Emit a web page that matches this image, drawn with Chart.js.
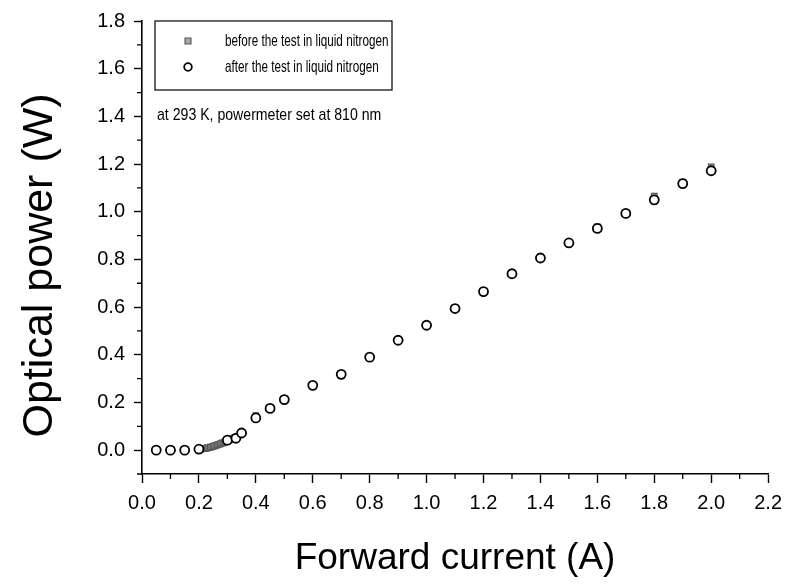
<!DOCTYPE html>
<html>
<head>
<meta charset="utf-8">
<script src="https://cdn.jsdelivr.net/npm/chart.js@4/dist/chart.umd.min.js"></script>
<style>
  html, body { margin: 0; padding: 0; background: #fff; }
  #wrap { width: 790px; height: 587px; }
</style>
</head>
<body>
<div id="wrap"><canvas id="grafico"></canvas></div>
<script>
// forward current (A), before the test (dense near threshold)
const correnteAntes = [0.05, 0.10, 0.15,
  0.200, 0.205, 0.210, 0.215, 0.220, 0.225, 0.230, 0.235, 0.240, 0.245, 0.250, 0.255, 0.260, 0.265,
  0.270, 0.275, 0.280, 0.285, 0.290, 0.295, 0.300, 0.305, 0.310, 0.315, 0.320, 0.325, 0.330, 0.35,
  0.40, 0.45, 0.50, 0.60, 0.70, 0.80, 0.90, 1.00, 1.10, 1.20, 1.30, 1.40, 1.50, 1.60, 1.70, 1.80, 1.90, 2.00];
// optical power (W), before the test
const potenciaAntes = [0.000, 0.000, 0.000,
  0.003, 0.004, 0.005, 0.006, 0.007, 0.008, 0.010, 0.011, 0.013, 0.014, 0.016, 0.018, 0.020, 0.022,
  0.024, 0.026, 0.029, 0.031, 0.034, 0.036, 0.039, 0.041, 0.044, 0.046, 0.049, 0.051, 0.054, 0.070,
  0.145, 0.178, 0.215, 0.274, 0.320, 0.392, 0.463, 0.527, 0.597, 0.668, 0.742, 0.810, 0.871, 0.937, 0.995, 1.065, 1.124, 1.188];

const correnteDepois = [0.05, 0.10, 0.15, 0.20, 0.30, 0.33, 0.35,
  0.40, 0.45, 0.50, 0.60, 0.70, 0.80, 0.90, 1.00, 1.10, 1.20, 1.30, 1.40, 1.50, 1.60, 1.70, 1.80, 1.90, 2.00];
// optical power (W), after the test
const potenciaDepois = [0.000, 0.000, 0.000, 0.004, 0.042, 0.050, 0.072,
  0.135, 0.175, 0.212, 0.272, 0.318, 0.390, 0.461, 0.524, 0.594, 0.665, 0.740, 0.806, 0.869, 0.930, 0.993, 1.050, 1.118, 1.172];

const ticksX = [0.0, 0.2, 0.4, 0.6, 0.8, 1.0, 1.2, 1.4, 1.6, 1.8, 2.0, 2.2];
const ticksY = [0.0, 0.2, 0.4, 0.6, 0.8, 1.0, 1.2, 1.4, 1.6, 1.8];

const legendas = ["before the test in liquid nitrogen", "after the test in liquid nitrogen"];
const anotacao = "at 293 K, powermeter set at 810 nm";

const fonte = "'Liberation Sans', Arial, sans-serif";

const pontos = (xs, ys) => xs.map((x, i) => ({ x, y: ys[i] }));

// texto um pouco comprimido na horizontal, como no original
function textoEstreito(ctx, txt, x, y, tam, escala) {
  ctx.save();
  ctx.translate(x, y);
  ctx.scale(escala, 1);
  ctx.font = `${tam}px ${fonte}`;
  ctx.fillStyle = '#000';
  ctx.textBaseline = 'middle';
  ctx.textAlign = 'left';
  ctx.fillText(txt, 0, 0);
  ctx.restore();
}

// minor ticks + legend box + note
const extras = {
  id: 'extras',
  afterDraw(chart) {
    const ctx = chart.ctx;
    const sx = chart.scales.x, sy = chart.scales.y;
    const area = chart.chartArea;
    ctx.save();
    ctx.strokeStyle = '#000';
    ctx.lineWidth = 1.3;
    ctx.beginPath();
    for (let i = 0; i < ticksX.length - 1; i++) {
      const px = sx.getPixelForValue((ticksX[i] + ticksX[i + 1]) / 2);
      ctx.moveTo(px, area.bottom);
      ctx.lineTo(px, area.bottom + 5);
    }
    for (let i = 0; i < ticksY.length - 1; i++) {
      const py = sy.getPixelForValue((ticksY[i] + ticksY[i + 1]) / 2);
      ctx.moveTo(area.left, py);
      ctx.lineTo(area.left - 5, py);
    }
    const pyMin = sy.getPixelForValue(-0.1);
    ctx.moveTo(area.left, pyMin);
    ctx.lineTo(area.left - 5, pyMin);
    ctx.stroke();

    // legend box
    const bx = area.left + 13, by = area.top, bw = 237, bh = 69;
    ctx.lineWidth = 1.2;
    ctx.strokeRect(bx, by, bw, bh);
    const ds = chart.data.datasets;
    const linhas = [by + 20, by + 46];
    ds.forEach((d, i) => {
      ctx.fillStyle = d.backgroundColor;
      ctx.strokeStyle = d.borderColor;
      ctx.lineWidth = d.borderWidth;
      ctx.beginPath();
      if (d.pointStyle === 'rect') {
        const r = d.pointRadius * 0.75;
        ctx.rect(bx + 33 - r, linhas[i] - r, 2 * r, 2 * r);
      } else {
        ctx.arc(bx + 33, linhas[i], d.pointRadius * 0.85, 0, Math.PI * 2);
      }
      ctx.fill();
      ctx.stroke();
      textoEstreito(ctx, d.label, bx + 70, linhas[i], 16.5, 0.71);
    });
    textoEstreito(ctx, anotacao, area.left + 15, area.top + 94, 17, 0.83);
    ctx.restore();
  }
};

new Chart(document.getElementById('grafico').getContext('2d'), {
  type: 'scatter',
  data: {
    datasets: [
      {
        label: legendas[0],
        data: pontos(correnteAntes, potenciaAntes),
        order: 2,
        pointStyle: 'rect',
        pointRadius: 4,
        backgroundColor: '#a8a8a8',
        borderColor: '#555',
        borderWidth: 1.1
      },
      {
        label: legendas[1],
        data: pontos(correnteDepois, potenciaDepois),
        order: 1,
        pointStyle: 'circle',
        pointRadius: 4.5,
        backgroundColor: '#fff',
        borderColor: '#000',
        borderWidth: 1.8
      }
    ]
  },
  plugins: [extras],
  options: {
    responsive: true,
    maintainAspectRatio: false,
    animation: false,
    layout: { padding: { top: 20, right: 20, left: 0, bottom: 0 } },
    plugins: {
      legend: { display: false },
      tooltip: { enabled: false }
    },
    scales: {
      x: {
        type: 'linear',
        min: 0,
        max: 2.2,
        afterFit: s => { s.height = 113; },
        border: { display: true, color: '#000', width: 1.6 },
        grid: { drawOnChartArea: false, drawTicks: true, tickLength: 9, color: '#000', tickWidth: 1.4 },
        afterBuildTicks: s => { s.ticks = ticksX.map(v => ({ value: v })); },
        ticks: {
          autoSkip: false,
          maxRotation: 0,
          padding: 8,
          color: '#000',
          font: { family: fonte, size: 20 },
          callback: v => Number(v).toFixed(1)
        },
        title: {
          display: true,
          text: 'Forward current (A)',
          color: '#000',
          font: { family: fonte, size: 37, lineHeight: 1 },
          padding: { top: 0, bottom: 10 }
        }
      },
      y: {
        type: 'linear',
        min: -0.1,
        max: 1.8,
        afterFit: s => { s.width = 142; },
        border: { display: true, color: '#000', width: 1.6 },
        grid: { drawOnChartArea: false, drawTicks: true, tickLength: 8, color: '#000', tickWidth: 1.4 },
        afterBuildTicks: s => { s.ticks = ticksY.map(v => ({ value: v })); },
        ticks: {
          padding: 9,
          color: '#000',
          font: { family: fonte, size: 20 },
          callback: v => Number(v).toFixed(1)
        },
        title: {
          display: true,
          // trailing spaces push the label a bit lower, as in the original
          text: 'Optical power (W)   ',
          color: '#000',
          font: { family: fonte, size: 43, lineHeight: 1 },
          padding: { top: 19, bottom: 0 }
        }
      }
    }
  }
});
</script>
</body>
</html>
